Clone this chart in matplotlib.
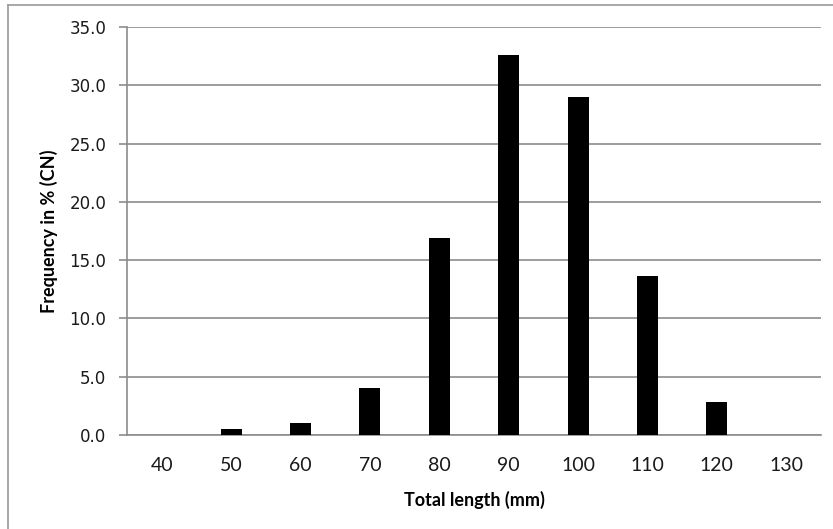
import matplotlib
matplotlib.use("Agg")
import matplotlib.pyplot as plt
from matplotlib.lines import Line2D
import numpy as np

categories = ["40", "50", "60", "70", "80", "90", "100", "110", "120", "130"]
frequency = [0.0, 0.5, 1.0, 4.0, 16.9, 32.6, 29.0, 13.6, 2.8, 0.0]
y_ticks = [0, 5, 10, 15, 20, 25, 30, 35]

W, H = 833, 529
fig = plt.figure(figsize=(W / 100, H / 100), dpi=100)
fig.patch.set_facecolor("white")
ax = fig.add_axes([127 / W, 1 - 435 / H, (821 - 127) / W, (435 - 27) / H])

x = np.arange(len(categories))
ax.bar(x, frequency, width=0.3, color="black", zorder=3)
ax.set_xlim(-0.5, len(categories) - 0.5)
ax.set_ylim(0, 35)
ax.set_yticks(y_ticks)
ax.set_yticklabels([f"{v:.1f}" for v in y_ticks], fontsize=12, family="DejaVu Sans", color="#1a1a1a")
ax.set_xticks(x)
ax.set_xticklabels(categories, fontsize=14, family="Lato", color="#1a1a1a")

grid_c = "#8c8c8c"
ax.yaxis.grid(True, color=grid_c, linewidth=1.2, zorder=0)
ax.xaxis.grid(False)
for s in ["top", "right"]:
    ax.spines[s].set_visible(False)
ax.spines["left"].set_color(grid_c)
ax.spines["bottom"].set_color(grid_c)
ax.spines["left"].set_linewidth(1.2)
ax.spines["bottom"].set_linewidth(1.2)
ax.tick_params(axis="y", length=6, width=1.2, color=grid_c, pad=9)
ax.tick_params(axis="x", length=0, pad=16)

ax.set_xlabel("Total length (mm)", fontsize=13, family="Lato", fontweight="bold", labelpad=12)
ax.set_ylabel("Frequency in % (CN)", fontsize=13, family="Lato", fontweight="bold", labelpad=8)

# outer frame (left and top edges visible)
fig.add_artist(Line2D([8 / W, 8 / W], [0, 1 - 5 / H], transform=fig.transFigure, color="#9a9a9a", lw=1.2))
fig.add_artist(Line2D([8 / W, 1], [1 - 5 / H, 1 - 5 / H], transform=fig.transFigure, color="#9a9a9a", lw=1.2))

fig.savefig("out.png", dpi=100)
